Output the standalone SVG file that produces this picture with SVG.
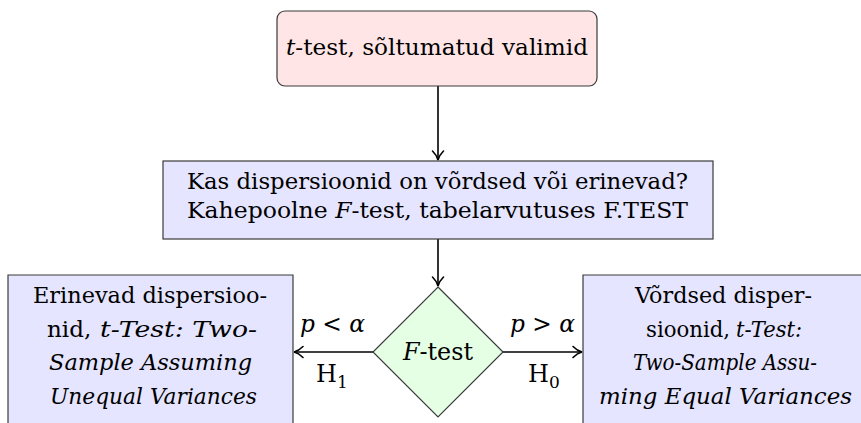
<svg xmlns="http://www.w3.org/2000/svg" width="861" height="423" viewBox="0 0 861 423">
<style>
.t{font-family:"DejaVu Serif","Liberation Serif",serif;fill:#000}
.i{font-style:italic}
.box{stroke:#3a3a3a;stroke-width:1.2}
.side{stroke:#3a3a3a;stroke-width:1.2;fill:none}
.edge{stroke:#000;stroke-width:1.6;fill:none}
</style>
<defs>
<marker id="arr" markerUnits="userSpaceOnUse" viewBox="-11 -7 13 14" refX="0" refY="0" markerWidth="13" markerHeight="14" orient="auto">
<path d="M-9,-5.5 C-6,-2.5 -3,-0.7 0,0 C-3,0.7 -6,2.5 -9,5.5" fill="none" stroke="#000" stroke-width="1.6" stroke-linecap="round"/>
</marker>
</defs>
<rect width="861" height="423" fill="#fff"/>
<g id="connectors">
<line class="edge" x1="438" y1="86" x2="438" y2="160" marker-end="url(#arr)"/>
<line class="edge" x1="438" y1="239" x2="438" y2="286" marker-end="url(#arr)"/>
<line class="edge" x1="373" y1="352" x2="294" y2="352" marker-end="url(#arr)"/>
<line class="edge" x1="503" y1="352" x2="582" y2="352" marker-end="url(#arr)"/>
<g id="label-left">
<text class="t i" x="300" y="332" font-size="24" textLength="65" lengthAdjust="spacingAndGlyphs">p &lt; α</text>
<text class="t" x="316" y="382" font-size="24">H</text>
<text class="t" x="337" y="388" font-size="17">1</text>
</g>
<g id="label-right">
<text class="t i" x="510" y="332" font-size="24" textLength="65" lengthAdjust="spacingAndGlyphs">p &gt; α</text>
<text class="t" x="528" y="382" font-size="24">H</text>
<text class="t" x="549" y="388" font-size="17">0</text>
</g>
</g>
<g id="start">
<rect class="box" x="277" y="11" width="320" height="75" rx="8" fill="#ffe5e5"/>
<text class="t" x="286" y="55" font-size="23" textLength="302" lengthAdjust="spacingAndGlyphs"><tspan class="i">t</tspan>-test, sõltumatud valimid</text>
</g>
<g id="question">
<rect class="box" x="163" y="161" width="550" height="78" fill="#e5e5ff"/>
<text class="t" x="187" y="189" font-size="22" textLength="501" lengthAdjust="spacingAndGlyphs">Kas dispersioonid on võrdsed või erinevad?</text>
<text class="t" x="187" y="218" font-size="22" textLength="501" lengthAdjust="spacingAndGlyphs">Kahepoolne <tspan class="i">F</tspan>-test, tabelarvutuses F.TEST</text>
</g>
<g id="ftest">
<polygon class="box" points="438,287 503,352 438,417 373,352" fill="#e5ffe5"/>
<text class="t" x="403" y="360" font-size="24" textLength="70" lengthAdjust="spacingAndGlyphs"><tspan class="i">F</tspan>-test</text>
</g>
<g id="unequal">
<rect x="8" y="275" width="285" height="148" fill="#e5e5ff"/>
<path class="side" d="M8,423 V275 H293 V423"/>
<text class="t" x="33" y="303" font-size="23" textLength="234" lengthAdjust="spacingAndGlyphs">Erinevad dispersioo-</text>
<text class="t" x="47" y="337" font-size="23">nid, </text>
<text class="t i" x="100" y="337" font-size="23" textLength="157" lengthAdjust="spacingAndGlyphs">t-Test: Two-</text>
<text class="t i" x="49" y="370" font-size="23" textLength="203" lengthAdjust="spacingAndGlyphs">Sample Assuming</text>
<text class="t i" x="50" y="404" font-size="23" textLength="207" lengthAdjust="spacingAndGlyphs">Unequal Variances</text>
</g>
<g id="equal">
<rect x="583" y="275" width="278" height="148" fill="#e5e5ff"/>
<path class="side" d="M583,423 V275 H861"/>
<text class="t" x="635" y="303" font-size="23" textLength="177" lengthAdjust="spacingAndGlyphs">Võrdsed disper-</text>
<text class="t" x="646" y="337" font-size="23" textLength="84" lengthAdjust="spacingAndGlyphs">sioonid,</text>
<text class="t i" x="736" y="337" font-size="23" textLength="66" lengthAdjust="spacingAndGlyphs">t-Test:</text>
<text class="t i" x="633" y="370" font-size="23" textLength="184" lengthAdjust="spacingAndGlyphs">Two-Sample Assu-</text>
<text class="t i" x="599" y="404" font-size="23" textLength="253" lengthAdjust="spacingAndGlyphs">ming Equal Variances</text>
</g>
</svg>
